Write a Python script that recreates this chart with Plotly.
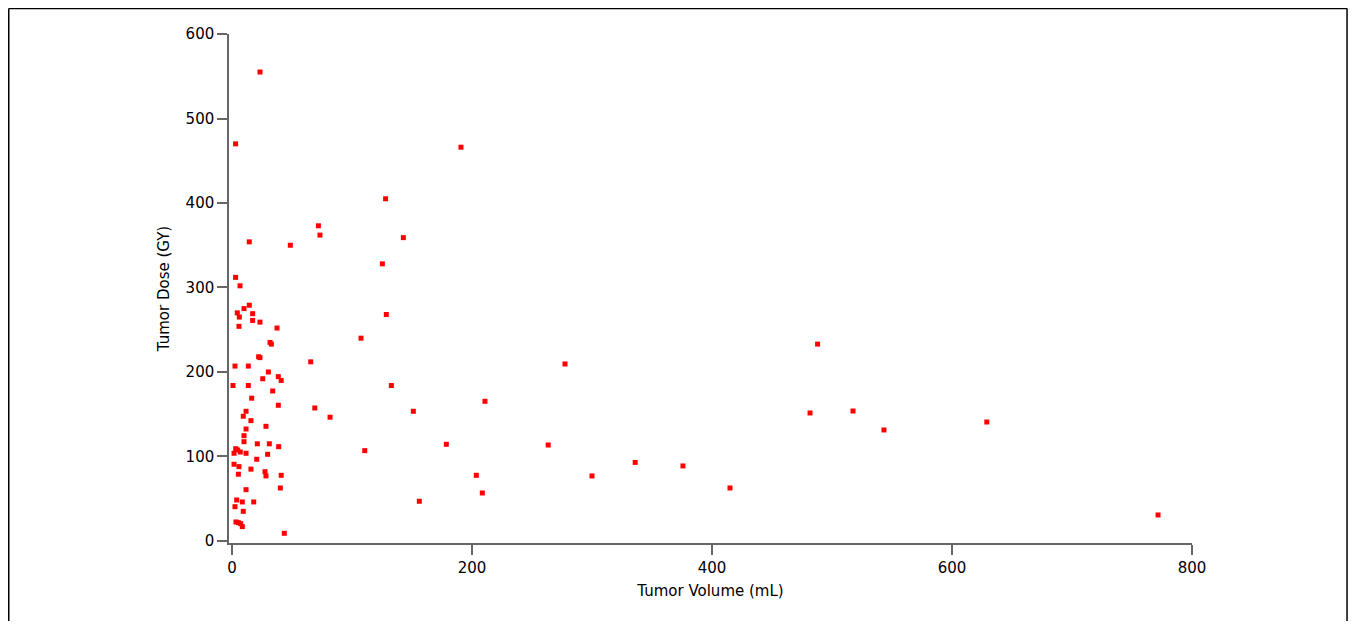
import plotly.graph_objects as go

# Tumor volume (mL) and tumor dose (GY)
tumor_volume = [23.3, 3, 190.8, 128, 72, 73.3, 142.8, 14.4, 48.6, 125.3,
                3, 6.7, 14.4, 10, 4.4, 6.1, 17.2, 128.6, 17.2, 23.3,
                5.8, 37.5, 107.5, 31.7, 32.8, 488, 22.2, 23.3, 65.6, 2.5,
                13.6, 277.5, 30.3, 25.6, 38.6, 41, 0.8, 13.6, 132.8, 33.9,
                16.4, 210.8, 38.6, 69, 11.7, 151.1, 517.5, 481.7, 9.4, 81.7,
                15.8, 629, 28.3, 11.7, 543.3, 10, 10, 21.1, 31.1, 178.6,
                263.5, 38.9, 3.1, 4.7, 6.9, 1.7, 11.7, 29.7, 110.6, 20.6,
                336, 1.7, 375.8, 5.8, 15.8, 27.5, 5.3, 28.3, 41, 203.6,
                300, 415, 11.7, 40.3, 208.6, 3.9, 8.6, 18.1, 156.1, 2.5,
                9.4, 3.3, 5.3, 7.2, 8.6, 43.6, 771.7]
tumor_dose = [555, 470, 466, 405, 373, 362, 359, 354, 350, 328,
              312, 302, 279, 275, 270, 265, 269, 268, 261, 259,
              254, 252, 240, 235, 233, 233, 218, 217, 212, 207,
              207, 209.5, 200, 192, 194.5, 190, 184, 184, 184, 177.5,
              169, 165.3, 160.6, 157.4, 153.5, 153.5, 153.8, 151.5, 147.6, 146.5,
              142.4, 140.8, 135.7, 132.5, 131.4, 124.6, 117.5, 115, 115, 114.4,
              113.6, 111.6, 109.2, 107.7, 105.3, 103.8, 103.8, 102.6, 106.9, 96.7,
              93, 90.8, 88.8, 88, 85, 82, 79, 77, 77.7, 77.7,
              77, 62.7, 60.7, 62.7, 56.8, 48.5, 46.2, 46.2, 47, 40.6,
              35.1, 22.5, 21.7, 20.5, 17, 9.1, 30.8]

x_ticks = [0, 200, 400, 600, 800]
y_ticks = [0, 100, 200, 300, 400, 500, 600]

fig = go.Figure()
fig.add_trace(go.Scatter(
    x=tumor_volume, y=tumor_dose, mode="markers",
    marker=dict(symbol="square", size=5, color="#ff0000", line=dict(width=0)),
    hoverinfo="x+y", showlegend=False,
))

axis_font = dict(family="DejaVu Sans", size=15, color="#000000")
border = dict(color="#000000", width=1.5)
bx0, bx1, by0, by1 = -0.2287, 1.1610, -0.2, 1.0501
fig.update_layout(
    width=1340, height=613,
    margin=dict(l=221, r=156, t=26, b=78),
    paper_bgcolor="white", plot_bgcolor="white",
    font=axis_font,
    xaxis=dict(
        range=[-2.5, 800], tickvals=x_ticks, ticks="outside", ticklen=10,
        tickcolor="#666666", tickwidth=1.5,
        showline=True, linecolor="#666666", linewidth=1.5,
        showgrid=False, zeroline=False, tickfont=axis_font,
        title=dict(text="Tumor Volume (mL)", font=axis_font, standoff=10),
    ),
    yaxis=dict(
        range=[-2.4, 600], tickvals=y_ticks, ticks="outside", ticklen=10,
        tickcolor="#666666", tickwidth=1.5,
        showline=True, linecolor="#666666", linewidth=1.5,
        showgrid=False, zeroline=False, tickfont=axis_font,
        title=dict(text="Tumor Dose (GY)", font=axis_font, standoff=12),
    ),
    shapes=[
        dict(type="line", xref="paper", yref="paper", x0=bx0, x1=bx1, y0=by1, y1=by1, line=border, layer="below"),
        dict(type="line", xref="paper", yref="paper", x0=bx0, x1=bx0, y0=by0, y1=by1, line=border, layer="below"),
        dict(type="line", xref="paper", yref="paper", x0=bx1, x1=bx1, y0=by0, y1=by1, line=border, layer="below"),
    ],
)

fig.write_html("out.html")
